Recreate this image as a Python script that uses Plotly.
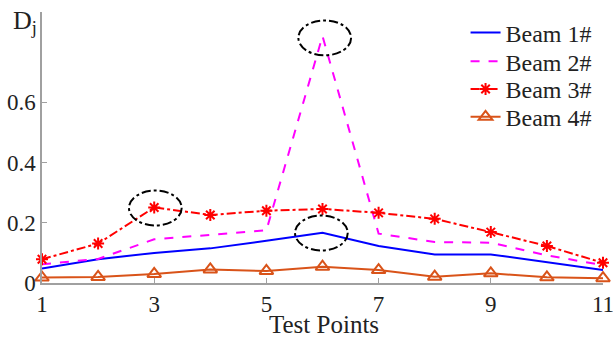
import plotly.graph_objects as go

test_points = [1, 2, 3, 4, 5, 6, 7, 8, 9, 10, 11]
beam1 = [0.048, 0.079, 0.100, 0.115, 0.140, 0.167, 0.123, 0.095, 0.095, 0.070, 0.043]
beam2 = [0.062, 0.080, 0.145, 0.160, 0.175, 0.820, 0.164, 0.136, 0.134, 0.092, 0.059]
beam3 = [0.079, 0.131, 0.251, 0.226, 0.240, 0.246, 0.233, 0.213, 0.169, 0.123, 0.067]
beam4 = [0.018, 0.020, 0.030, 0.045, 0.040, 0.054, 0.043, 0.021, 0.032, 0.019, 0.016]
names = ["Beam 1#", "Beam 2#", "Beam 3#", "Beam 4#"]
x_ticks = [1, 3, 5, 7, 9, 11]
y_ticks = [0, 0.2, 0.4, 0.6]
y_tick_labels = ["0", "0.2", "0.4", "0.6"]
# highlighted points (x, y) circled with dash-dot ellipses
highlights = [(3.02, 0.249), (5.98, 0.166), (6.04, 0.814)]

FONT = "Liberation Serif"
TXT = "#222222"
fig = go.Figure()
fig.add_trace(go.Scatter(x=test_points, y=beam1, mode="lines", name=names[0],
                         line=dict(color="#0000FF", width=2), legend="legend"))
fig.add_trace(go.Scatter(x=test_points, y=beam2, mode="lines", name=names[1],
                         line=dict(color="#FF00FF", width=2, dash="dash"), legend="legend2"))
fig.add_trace(go.Scatter(x=test_points, y=beam3, mode="lines+markers", name=names[2],
                         line=dict(color="#FF0000", width=2, dash="dashdot"),
                         marker=dict(symbol="asterisk-open", size=10, color="#FF0000",
                                     line=dict(color="#FF0000", width=2)),
                         cliponaxis=False, legend="legend3"))
fig.add_trace(go.Scatter(x=test_points, y=beam4, mode="lines+markers", name=names[3],
                         line=dict(color="#D95319", width=2),
                         marker=dict(symbol="triangle-up-open", size=12, color="#D95319",
                                     line=dict(color="#D95319", width=2)),
                         cliponaxis=False, legend="legend4"))

hx, hy = 0.47, 0.058
for cx, cy in highlights:
    fig.add_shape(type="circle", xref="x", yref="y",
                  x0=cx - hx, x1=cx + hx, y0=cy - hy, y1=cy + hy,
                  line=dict(color="black", width=2, dash="dashdot"))

fig.add_annotation(text="D<sub>j</sub>", xref="paper", yref="paper",
                   x=-0.056, y=1.03, xanchor="left", yanchor="top", showarrow=False,
                   font=dict(family=FONT, size=26, color=TXT))
fig.add_annotation(text="Test Points", xref="paper", yref="paper",
                   x=0.502, y=-0.212, xanchor="center", yanchor="bottom", showarrow=False,
                   font=dict(family=FONT, size=25, color=TXT))

legend_rows_px = [31, 60, 88, 116]
legend_common = dict(x=0.755, xanchor="left", yanchor="middle", bgcolor="rgba(0,0,0,0)",
                     font=dict(family=FONT, size=24, color=TXT), itemwidth=30)
legends = {}
for i, ypx in enumerate(legend_rows_px):
    key = "legend" if i == 0 else f"legend{i + 1}"
    legends[key] = dict(legend_common, y=(283 - ypx) / 273)

fig.update_layout(
    width=613, height=337,
    margin=dict(l=42, r=10, t=10, b=54),
    paper_bgcolor="white", plot_bgcolor="white",
    font=dict(family=FONT, size=23, color=TXT),
    showlegend=True,
    **legends,
)
fig.update_xaxes(range=[1, 11], tickvals=x_ticks, ticks="inside", ticklen=5,
                 tickcolor="#A0A0A0", showline=True, linecolor="#A0A0A0", linewidth=1.5,
                 showgrid=False, zeroline=False, ticklabeloverflow="allow",
                 ticklabelstandoff=0, automargin=False)
fig.update_yaxes(range=[0, 0.9], tickvals=y_ticks, ticktext=y_tick_labels,
                 ticks="inside", ticklen=5, tickcolor="#A0A0A0", showline=True,
                 linecolor="#A0A0A0", linewidth=1.5, showgrid=False, zeroline=False,
                 automargin=False)

fig.write_html("out.html")
